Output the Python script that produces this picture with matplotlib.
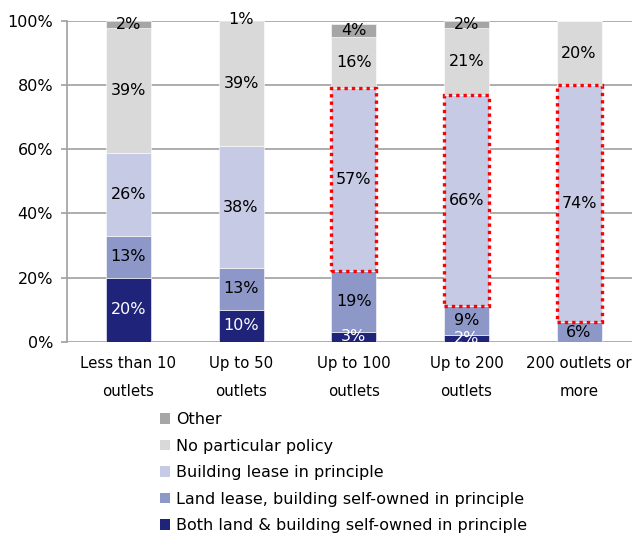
import matplotlib
matplotlib.use("Agg")
import matplotlib.pyplot as plt
from matplotlib.patches import Patch, Rectangle
import numpy as np

categories = ["Less than 10\noutlets", "Up to 50\noutlets", "Up to 100\noutlets",
              "Up to 200\noutlets", "200 outlets or\nmore"]
series_names = ["Both land & building self-owned in principle",
                "Land lease, building self-owned in principle",
                "Building lease in principle",
                "No particular policy",
                "Other"]
both_owned = [20, 10, 3, 2, 0]
land_lease = [13, 13, 19, 9, 6]
building_lease = [26, 38, 57, 66, 74]
no_policy = [39, 39, 16, 21, 20]
other = [2, 1, 4, 2, 0]
highlight = [2, 3, 4]  # bars with the building-lease segment boxed

series = [both_owned, land_lease, building_lease, no_policy, other]
colors = ["#1f2379", "#8e98c8", "#c6cae4", "#d9d9d9", "#a6a6a6"]
text_colors = ["white", "black", "black", "black", "black"]

plt.rcParams['font.family'] = ['DejaVu Sans']
fs = 11.5

fig = plt.figure(figsize=(6.32, 5.36), dpi=100)
ax = fig.add_axes([0.106, 0.3625, 0.894, 0.598])

x = np.arange(len(categories))
w = 0.4
bottom = np.zeros(len(categories))
bottoms = []
for vals, c, tc in zip(series, colors, text_colors):
    vals = np.array(vals, dtype=float)
    ax.bar(x, vals, w, bottom=bottom, color=c, edgecolor="white", linewidth=0.4, zorder=2)
    for xi, b, v in zip(x, bottom, vals):
        if v > 0:
            ax.text(xi, b + v / 2, f"{int(v)}%", ha="center", va="center",
                    color=tc, fontsize=fs, zorder=4)
    bottoms.append(bottom.copy())
    bottom = bottom + vals

# red dotted boxes around the building-lease segments
for i in highlight:
    b = bottoms[2][i]
    h = building_lease[i]
    ax.add_patch(Rectangle((x[i] - w / 2, b), w, h, fill=False, edgecolor="red",
                           linestyle=(0, (1, 1.2)), linewidth=2.4, zorder=3))

ax.set_xlim(-0.545, 4.47)
ax.set_ylim(0, 100)
ax.set_yticks([0, 20, 40, 60, 80, 100])
ax.set_yticklabels([f"{v}%" for v in [0, 20, 40, 60, 80, 100]], fontsize=fs)
ax.set_xticks(x)
ax.set_xticklabels(categories, fontsize=10.8, linespacing=2.1)
ax.tick_params(axis="x", length=0, pad=10)
ax.tick_params(axis="y", length=4, width=1.2, color="#a0a0a0", pad=6)
ax.yaxis.grid(True, color="#a0a0a0", linewidth=1.2, zorder=0)
ax.set_axisbelow(True)
for s in ["top", "right", "bottom"]:
    ax.spines[s].set_visible(False)
ax.spines["left"].set_color("#a0a0a0")
ax.spines["left"].set_linewidth(1.2)

handles = [Patch(facecolor=c, edgecolor="none") for c in colors][::-1]
labels = series_names[::-1]
fig.legend(handles, labels, loc="upper left", bbox_to_anchor=(0.243, 0.243),
           frameon=False, fontsize=fs, handlelength=0.65, handleheight=0.65,
           handletextpad=0.35, labelspacing=0.72, borderaxespad=0)

fig.savefig("out.png", dpi=100)
